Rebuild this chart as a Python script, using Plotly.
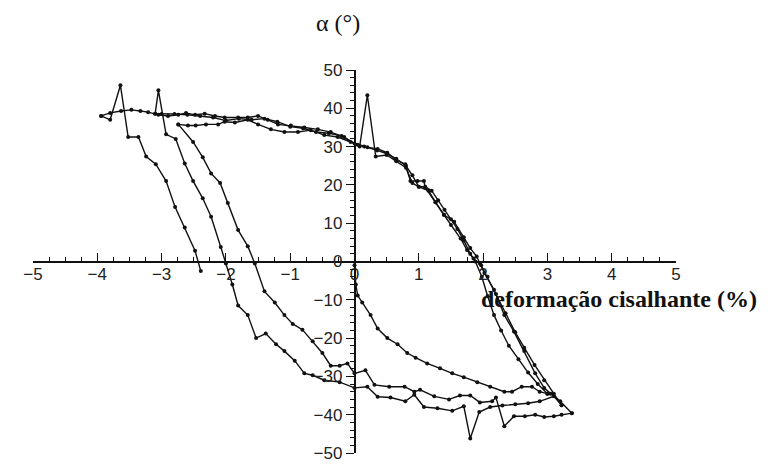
import plotly.graph_objects as go

# ---- data (deformação cisalhante %, alpha em graus) ----
# S0: virgin loading
s0_x = [0, 0.02, 0.05, 0.12, 0.25, 0.36, 0.51, 0.67, 0.82, 0.95, 1.13, 1.33, 1.52, 1.70, 1.91, 2.11, 2.33, 2.45, 2.60, 2.76, 2.88, 3.00]
s0_y = [-1, -6, -8.9, -10.7, -14, -17.5, -20, -21.6, -23.9, -25.1, -26.6, -27.9, -29.2, -30.2, -31.5, -32.7, -34, -34, -32.7, -32.7, -34, -34.5]

# S1: unloading 3.0 -> -2.74
s1_x = [3.00, 2.85, 2.70, 2.55, 2.40, 2.28, 2.17, 2.07, 1.98, 1.88, 1.80, 1.70, 1.60, 1.50, 1.40, 1.30, 1.20, 1.10, 1.00, 0.90, 0.80, 0.65, 0.50, 0.35, 0.20, 0.05,
        -0.06, -0.26, -0.47, -0.68, -0.88, -1.09, -1.30, -1.50, -1.66, -1.86, -2.02, -2.12, -2.31, -2.47, -2.59, -2.74]
s1_y = [-34.5, -32, -29, -25.5, -22, -18, -14, -9, -4, 0, 2, 5.5, 8.5, 11, 13.5, 16, 18.5, 19.5, 19.5, 22.5, 25, 26.8, 28.2, 29, 29.8, 30.5,
        31.2, 32.5, 33, 34.3, 33.8, 33.8, 34.5, 35.8, 37, 36.3, 36.5, 35.8, 35.8, 35.5, 35.5, 35.8]

# S2: loading -2.74 -> 3.38
s2_x = [-2.74, -2.51, -2.36, -2.23, -2.09, -1.97, -1.81, -1.66, -1.55, -1.40, -1.24, -1.09, -0.96, -0.81, -0.65, -0.50, -0.37, -0.23, -0.11, 0.00, 0.17, 0.31,
        0.54, 0.78, 0.93, 1.02, 1.24, 1.47, 1.64, 1.80, 1.95, 2.14, 2.20, 2.33, 2.48, 2.65, 2.81, 2.95, 3.10, 3.22, 3.38]
s2_y = [35.8, 31.2, 27.2, 23, 20.5, 15.3, 8.2, 4, -0.5, -7.8, -10.7, -14, -16.3, -17.8, -20.8, -23.9, -27.2, -27.2, -26.6, -29.2, -28.4, -32.2,
        -32.7, -32.7, -34, -33.5, -35.2, -36, -35, -35, -36.8, -36.5, -35.5, -43, -40.4, -40.4, -40, -40.6, -40.4, -40, -39.6]

# S3: unloading 3.38 -> -3.1
s3_x = [3.38, 3.20, 3.05, 2.95, 2.81, 2.64, 2.48, 2.33, 2.17, 2.02, 1.95, 1.90, 1.80, 1.70, 1.55, 1.39, 1.26, 1.10, 1.08, 0.98, 0.87, 0.79, 0.64, 0.51, 0.36, 0.15, 0.00,
        -0.20, -0.40, -0.60, -0.80, -1.00, -1.20, -1.40, -1.60, -1.80, -2.00, -2.20, -2.40, -2.60, -2.80, -3.00, -3.10]
s3_y = [-39.6, -36.5, -34.5, -33, -29.2, -23.4, -18.3, -14, -7.4, -3, -0.5, 1.3, 3.5, 6.3, 10.4, 12.2, 15.5, 19.3, 21, 21, 21, 25.4, 26.6, 28.4, 29.4, 30, 30.8,
        32.8, 33.5, 33.8, 34.8, 35.2, 36.5, 37.3, 37, 37.3, 36.8, 37.6, 38, 38.3, 38.5, 38.5, 38.6]

# S4: loading -3.1 -> 3.22
s4_x = [-3.10, -3.05, -2.93, -2.78, -2.64, -2.51, -2.36, -2.23, -2.08, -2.00, -1.90, -1.81, -1.66, -1.53, -1.38, -1.22, -1.09, -0.93, -0.78, -0.65, -0.47, -0.23, 0.00,
        0.20, 0.36, 0.56, 0.79, 0.93, 1.08, 1.29, 1.52, 1.70, 1.80, 1.94, 2.11, 2.30, 2.50, 2.70, 2.88, 3.10, 3.22]
s4_y = [38.6, 44.7, 33.2, 32, 25.6, 21, 16.5, 11.7, 3.8, -0.5, -6, -11.5, -14, -20, -18.8, -21.6, -23.4, -25.9, -29.2, -29.7, -31, -31.5, -33,
        -32.7, -35.3, -35.5, -36.5, -34.8, -38, -38.3, -39, -37.8, -46.2, -39.3, -38, -37.6, -37.3, -37, -36.5, -35.2, -37.5]

# S5: unloading 3.22 -> -3.94
s5_x = [3.22, 3.10, 2.95, 2.80, 2.64, 2.50, 2.35, 2.20, 2.07, 1.97, 1.85, 1.75, 1.65, 1.50, 1.39, 1.26, 1.15, 1.00, 0.90, 0.80, 0.65, 0.50, 0.33, 0.20, 0.08,
        -0.16, -0.37, -0.57, -0.78, -0.99, -1.19, -1.35, -1.50, -1.66, -1.81, -2.02, -2.17, -2.33, -2.48, -2.62, -2.74, -2.90, -3.05, -3.21, -3.33, -3.47, -3.63, -3.80, -3.94]
s5_y = [-37.5, -34.5, -31, -27, -22.5, -18.5, -13.5, -8.5, -4, -1, 0.8, 3, 6, 9.5, 12.2, 15.5, 18.5, 19.5, 20.5, 24.5, 26.2, 27.8, 27.4, 43.4, 30,
        32.5, 33.8, 34.5, 35, 35.5, 35.8, 37, 38, 37.6, 37.6, 37.6, 38, 38.6, 38.3, 38.8, 38.3, 38, 38.3, 39, 39.3, 39.6, 39.3, 38.8, 38]

# S6: final loading -3.94 -> -2.39
s6_x = [-3.94, -3.80, -3.64, -3.52, -3.36, -3.24, -3.09, -2.93, -2.79, -2.64, -2.48, -2.39]
s6_y = [38, 37, 46, 32.5, 32.5, 27.4, 25.4, 21, 14.2, 8.9, 2.8, -2.5]

branches = [(s0_x, s0_y), (s1_x, s1_y), (s2_x, s2_y), (s3_x, s3_y), (s4_x, s4_y), (s5_x, s5_y), (s6_x, s6_y)]

x_ticks = [-5, -4, -3, -2, -1, 0, 1, 2, 3, 4, 5]
y_ticks = [-50, -40, -30, -20, -10, 0, 10, 20, 30, 40, 50]

fig = go.Figure()
for bx, by in branches:
    fig.add_trace(go.Scatter(
        x=bx, y=by, mode="lines+markers",
        line=dict(color="#111111", width=1.4),
        marker=dict(color="#111111", size=4),
        showlegend=False, hoverinfo="skip"))

tickfont = dict(family="Liberation Sans, Arial, sans-serif", size=17, color="#222222")

fig.update_layout(
    width=779, height=466,
    margin=dict(l=25, r=111, t=62, b=11),
    paper_bgcolor="white", plot_bgcolor="white",
    xaxis=dict(
        range=[-5, 5], anchor="free", position=0.5,
        tickmode="array", tickvals=x_ticks,
        ticks="inside", ticklen=8, tickwidth=1.3, tickcolor="#111111",
        minor=dict(dtick=0.25, tick0=0, ticks="inside", ticklen=4, tickwidth=1.1, tickcolor="#111111"),
        showline=True, linecolor="#111111", linewidth=1.5,
        showgrid=False, zeroline=False, tickfont=tickfont,
        ticklabelstandoff=-3,
    ),
    yaxis=dict(
        range=[-50, 50], anchor="free", position=0.5,
        tickmode="array", tickvals=y_ticks,
        ticks="outside", ticklen=8, tickwidth=1.3, tickcolor="#111111",
        minor=dict(dtick=2, tick0=0, ticks="outside", ticklen=4, tickwidth=1.1, tickcolor="#111111"),
        showline=True, linecolor="#111111", linewidth=1.5,
        showgrid=False, zeroline=False, tickfont=tickfont,
    ),
    annotations=[
        dict(text="α (°)", xref="paper", yref="paper", x=0.475, y=1.122,
             showarrow=False, xanchor="center", yanchor="middle",
             font=dict(family="Liberation Serif, Times New Roman, serif", size=24, color="#111111")),
        dict(text="<b>deformação cisalhante (%)</b>", xref="paper", yref="paper", x=0.694, y=0.403,
             showarrow=False, xanchor="left", yanchor="middle",
             font=dict(family="Liberation Serif, Times New Roman, serif", size=24, color="#111111")),
    ],
)

fig.write_html("out.html")
